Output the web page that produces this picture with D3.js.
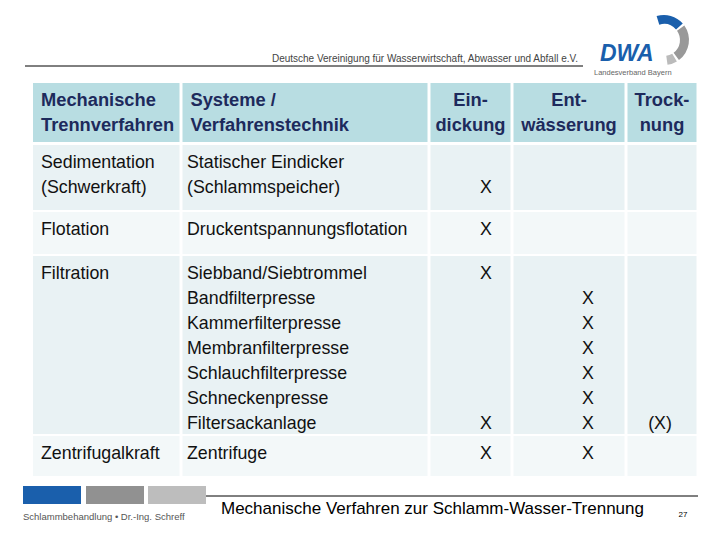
<!DOCTYPE html>
<html><head><meta charset="utf-8">
<script src="https://cdn.jsdelivr.net/npm/d3@7"></script>
<style>body{margin:0;background:#fff}svg{font-family:"Liberation Sans",Arial,sans-serif}</style>
</head><body><svg id="c" width="720" height="540"></svg>
<script>
// Header cells (two lines each)
const headers = [
  ["Mechanische", "Trennverfahren"],
  ["Systeme /", "Verfahrenstechnik"],
  ["Ein-", "dickung"],
  ["Ent-", "wässerung"],
  ["Trock-", "nung"]
];
const methods = ["Sedimentation\n(Schwerkraft)", "Flotation", "Filtration", "Zentrifugalkraft"];
// system lines per method
const systems = [
  ["Statischer Eindicker", "(Schlammspeicher)"],
  ["Druckentspannungsflotation"],
  ["Siebband/Siebtrommel", "Bandfilterpresse", "Kammerfilterpresse", "Membranfilterpresse",
   "Schlauchfilterpresse", "Schneckenpresse", "Filtersackanlage"],
  ["Zentrifuge"]
];
// marks per system line: [Eindickung, Entwässerung, Trocknung]
const marks = [
  [["", "", ""], ["X", "", ""]],
  [["X", "", ""]],
  [["X", "", ""], ["", "X", ""], ["", "X", ""], ["", "X", ""], ["", "X", ""], ["", "X", ""], ["X", "X", "(X)"]],
  [["X", "X", ""]]
];

const svg = d3.select("#c");
const colEdges = [33, 181, 429, 512, 626, 698];
const rowEdges = [83, 144, 211, 255, 435, 477];
const lineH = 25;
const headFill = "#b8dde2", bodyFill = ["#e9f2f4", "#f3f8f9"];
const fs = 17.8;

// page header
svg.append("line").attr("x1", 25).attr("x2", 583).attr("y1", 66).attr("y2", 66).attr("stroke", "#000").attr("stroke-width", 1);
svg.append("text").attr("x", 578).attr("y", 62).attr("text-anchor", "end").attr("font-size", 10).attr("fill", "#444")
  .text("Deutsche Vereinigung für Wasserwirtschaft, Abwasser und Abfall e.V.");
// logo
const lg = svg.append("g").attr("transform", "translate(664,40)");
const arc = d3.arc().innerRadius(16).outerRadius(25);
lg.append("path").attr("d", arc({startAngle: -0.3, endAngle: 0.85})).attr("fill", "#1a5fac");
lg.append("path").attr("d", arc({startAngle: 0.95, endAngle: 2.5})).attr("fill", "#999");
lg.append("path").attr("d", arc({startAngle: 2.6, endAngle: 3.0})).attr("fill", "#bbb");
lg.append("text").attr("x", -64).attr("y", 21).attr("font-size", 23).attr("font-weight", "bold").attr("font-style", "italic")
  .attr("fill", "#1a5fac").text("DWA");
lg.append("text").attr("x", -70).attr("y", 35).attr("font-size", 7.5).attr("fill", "#666").text("Landesverband Bayern");

// header row
headers.forEach((h, i) => {
  const x0 = colEdges[i] + (i ? 1.5 : 0), x1 = colEdges[i + 1] - 1.5;
  svg.append("rect").attr("x", x0).attr("y", rowEdges[0]).attr("width", x1 - x0).attr("height", rowEdges[1] - rowEdges[0] - 2).attr("fill", headFill);
  const center = i >= 2;
  h.forEach((t, j) => svg.append("text")
    .attr("x", center ? (x0 + x1) / 2 : x0 + 8).attr("y", 106 + j * lineH)
    .attr("text-anchor", center ? "middle" : "start")
    .attr("font-size", 18.3).attr("font-weight", "bold").attr("fill", "#1d2a5c").text(t));
});

// body rows
methods.forEach((m, r) => {
  const y0 = rowEdges[r + 1] + 1, y1 = rowEdges[r + 2] - 1;
  for (let i = 0; i < 5; i++) {
    const x0 = colEdges[i] + (i ? 1.5 : 0), x1 = colEdges[i + 1] - 1.5;
    svg.append("rect").attr("x", x0).attr("y", y0).attr("width", x1 - x0).attr("height", y1 - y0).attr("fill", bodyFill[r % 2]);
  }
  const ty = y0 + 23;
  m.split("\n").forEach((t, j) => svg.append("text").attr("x", colEdges[0] + 8).attr("y", ty + j * lineH)
    .attr("font-size", fs).attr("fill", "#111").text(t));
  systems[r].forEach((t, j) => svg.append("text").attr("x", colEdges[1] + 6).attr("y", ty + j * lineH)
    .attr("font-size", fs).attr("fill", "#111").text(t));
  marks[r].forEach((mk, j) => mk.forEach((v, k) => {
    if (!v) return;
    const cx = k === 0 ? 486 : k === 1 ? 588 : 660;
    svg.append("text").attr("x", cx).attr("y", ty + j * lineH).attr("text-anchor", "middle")
      .attr("font-size", fs).attr("fill", "#111").text(v);
  }));
});

// footer
[["#1a5fac", 23], ["#919191", 86], ["#bdbdbd", 148]].forEach(([c, x0]) =>
  svg.append("rect").attr("x", x0).attr("y", 486).attr("width", 58).attr("height", 18).attr("fill", c));
svg.append("line").attr("x1", 206).attr("x2", 698).attr("y1", 496).attr("y2", 496).attr("stroke", "#000");
svg.append("text").attr("x", 23).attr("y", 520).attr("font-size", 9.5).attr("fill", "#555").text("Schlammbehandlung • Dr.-Ing. Schreff");
svg.append("text").attr("x", 221).attr("y", 514).attr("font-size", 17).attr("fill", "#000").text("Mechanische Verfahren zur Schlamm-Wasser-Trennung");
svg.append("text").attr("x", 683).attr("y", 517).attr("text-anchor", "middle").attr("font-size", 8).attr("fill", "#000").text("27");
</script></body></html>
